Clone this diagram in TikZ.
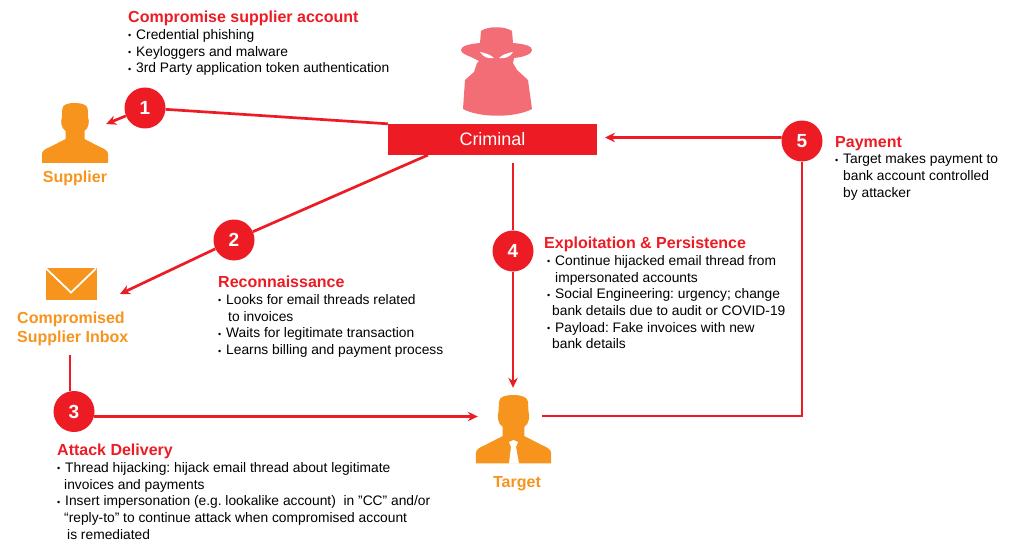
\documentclass[tikz,border=0pt]{standalone}
\usepackage{fontspec}
\setmainfont{Liberation Sans}
\usepackage{xcolor}
\usetikzlibrary{arrows.meta,positioning}
\definecolor{alertred}{HTML}{ED1C24}
\definecolor{softred}{HTML}{F26D75}
\definecolor{iconorange}{HTML}{F7941E}
\newcommand{\headline}[1]{{\fontsize{16}{16}\selectfont\bfseries\color{alertred}#1}}
\newcommand{\dotitem}{\makebox[8pt][l]{\fontsize{9}{9}\selectfont\raisebox{0.5pt}{•}}}
\begin{document}
\begin{tikzpicture}[
        x=1pt, y=-1pt,
        numdot/.style={circle, fill=alertred, text=white, inner sep=0pt, minimum size=41pt, font=\fontsize{19}{19}\selectfont\bfseries},
        iconbox/.style={inner sep=0pt},
        iconlabel/.style={text=iconorange, inner sep=0pt, font=\fontsize{16}{19}\selectfont\bfseries},
        textblock/.style={anchor=north west, align=left, inner sep=0pt, font=\fontsize{13.8}{16.7}\selectfont\frenchspacing},
        link/.style={alertred, line width=2.7pt},
        arrow/.style={link, -{Stealth[length=10pt,width=9.5pt]}},
        person/.pic={
            \fill[iconorange] (-12.7,6) .. controls (-12.7,1) and (-6,0) .. (0,0)
                .. controls (7,0) and (12.7,2) .. (12.7,6) -- (13.2,15)
                .. controls (14.5,18) and (14,25) .. (9.5,28) -- (9.5,36)
                -- (25,44) .. controls (30,46) and (33,48) .. (33,51) -- (33,60)
                -- (-33,60) -- (-33,51) .. controls (-33,48) and (-30,46) .. (-25,44)
                -- (-9.5,36) -- (-9.5,28) .. controls (-14,25) and (-14.5,18) .. (-13.2,15) -- cycle;
        }
    ]
        \useasboundingbox (0,0) rectangle (1024,548);

        % Criminal
        \node[rectangle, fill=alertred, text=white, inner sep=0pt, minimum width=209pt, minimum height=31pt, font=\fontsize{18}{18}\selectfont] (criminal) at (492.5,139.5) {Criminal};
        \fill[softred] (480,43) -- (481,31) .. controls (487,26) and (505,26) .. (512,31) -- (513,43)
            .. controls (525,44) and (532,46) .. (532,50) .. controls (532,54) and (524,57) .. (514,58)
            -- (513,63) -- (517,70) -- (528,80) -- (532,109) .. controls (515,118) and (480,118) .. (463,109)
            -- (465,80) -- (474,72) -- (477,63) -- (479,61) -- (471,57) .. controls (466,55) and (461,53) .. (461,50)
            .. controls (461,46) and (469,44) .. (480,43) -- cycle;
        \fill[white] (480,52) .. controls (486,53) and (491,55) .. (494,58) .. controls (488,59) and (483,57) .. (480,52) -- cycle;
        \fill[white] (513,52) .. controls (507,53) and (502,55) .. (499,58) .. controls (505,59) and (510,57) .. (513,52) -- cycle;

        % Victim side
        \node[iconbox, minimum width=62pt, minimum height=10pt] (supplier) at (75,124) {};
        \pic at (75,103) {person};
        \node[iconlabel, below=9pt of supplier.center, yshift=-38pt] (supplierlabel) {Supplier};

        \node[rectangle, fill=iconorange, inner sep=0pt, minimum width=51pt, minimum height=32pt] (inbox) at (71,284) {};
        \draw[white, line width=1.8pt] (46,268.5) -- (71,292.5) -- (96,268.5);
        \node[iconlabel, align=left, anchor=north west] (inboxlabel) at (17,311.5) {Compromised\\Supplier Inbox};

        \node[iconbox, minimum width=70pt, minimum height=75pt] (target) at (513,425.5) {};
        \pic[scale=1.14] at (513.5,395) {person};
        \fill[white] (509,442) -- (513.5,440) -- (518,442) -- (516,447) -- (519,463.5) -- (509,463.5) -- (511,447) -- cycle;
        \node[iconlabel, below=13pt of target.south, xshift=4pt] (targetlabel) {Target};

        % Numbered steps
        \node[numdot] (num1) at (145,108) {1};
        \node[numdot] (num2) at (234,240) {2};
        \node[numdot] (num3) at (74,411.5) {3};
        \node[numdot] (num4) at (513,251) {4};
        \node[numdot] (num5) at (802,141) {5};

        \coordinate (crimtwo) at (428,155);
        \coordinate (crimfour) at (513,163);
        \coordinate (inboxtip) at (120,294);
        \coordinate (inboxout) at (70,355);
        \coordinate (crimin) at (605,137.5);
        \coordinate (targetout) at (542,416);

        % Arrows
        \draw[link] (num1) -- (criminal.north west);
        \draw[arrow] (num1) -- (supplier.east);
        \draw[link] (num2) -- (crimtwo);
        \draw[arrow] (num2) -- (inboxtip);
        \draw[link] (inboxout) -- (inboxout |- num3.100);
        \draw[arrow] (num3.-14) -- (num3.-14 -| target.west);
        \draw[link] (crimfour) -- (num4);
        \draw[arrow] (num4) -- (target.north);
        \draw[link] (targetout) -| (num5);
        \draw[arrow] (num5.170) -- (crimin);

        % Step texts
        \node[textblock] (texta) at (128,11) {\headline{Compromise supplier account}\\
            \dotitem Credential phishing\\
            \dotitem Keyloggers and malware\\
            \dotitem 3rd Party application token authentication};
        \node[textblock] (textb) at (218,276) {\headline{Reconnaissance}\\
            \dotitem Looks for email threads related\\
            \hspace*{10pt}to invoices\\
            \dotitem Waits for legitimate transaction\\
            \dotitem Learns billing and payment process};
        \node[textblock] (textc) at (57,444) {\headline{Attack Delivery}\\
            \dotitem Thread hijacking: hijack email thread about legitimate\\
            \hspace*{7pt}invoices and payments\\
            \dotitem Insert impersonation (e.g. lookalike account)\ \ in ”CC” and/or\\
            \hspace*{7pt}“reply-to” to continue attack when compromised account\\
            \hspace*{10pt}is remediated};
        \node[textblock] (textd) at (544,237) {\headline{Exploitation \& Persistence}\\
            \hspace*{3pt}\dotitem Continue hijacked email thread from\\
            \hspace*{11pt}impersonated accounts\\
            \hspace*{3pt}\dotitem Social Engineering: urgency; change\\
            \hspace*{8pt}bank details due to audit or COVID-19\\
            \hspace*{3pt}\dotitem Payload: Fake invoices with new\\
            \hspace*{8pt}bank details};
        \node[textblock] (texte) at (835,136) {\headline{Payment}\\
            \dotitem Target makes payment to\\
            \hspace*{8pt}bank account controlled\\
            \hspace*{8pt}by attacker};
    \end{tikzpicture}
\end{document}
